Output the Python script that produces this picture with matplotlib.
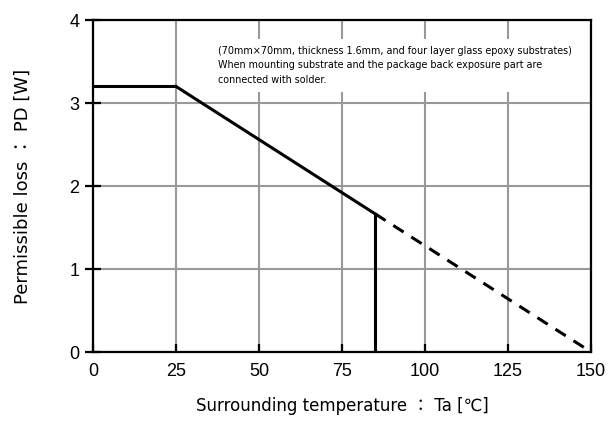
import matplotlib
matplotlib.use("Agg")
import matplotlib.pyplot as plt

plt.rcParams['font.family'] = ['Liberation Sans', 'Noto Sans CJK JP', 'DejaVu Sans']
label_font = ['DejaVu Sans', 'Noto Sans CJK JP']

# data
temp_flat = [0, 25]
pd_flat = [3.2, 3.2]
temp_derate = [25, 85]
pd_derate = [3.2, 1.664]
temp_cut = [85, 85]
pd_cut = [1.664, 0]
temp_dash = [85, 150]
pd_dash = [1.664, 0]
xticks = [0, 25, 50, 75, 100, 125, 150]
yticks = [0, 1, 2, 3, 4]

fig = plt.figure(figsize=(6.10, 4.37), dpi=100)
ax = fig.add_axes([0.1525, 0.1945, 0.8165, 0.7595])

ax.set_xlim(0, 150)
ax.set_ylim(0, 4)
ax.set_xticks(xticks)
ax.set_yticks(yticks)
ax.grid(True, color='#999999', linewidth=1.5, zorder=0)
ax.set_axisbelow(True)

for s in ax.spines.values():
    s.set_linewidth(1.6)
    s.set_color('black')
    s.set_zorder(5)

ax.tick_params(axis='y', direction='inout', length=12, width=1.6, labelsize=13, pad=4)
ax.tick_params(axis='x', direction='in', length=6, width=1.6, labelsize=13, pad=8)

ax.plot(temp_flat, pd_flat, color='black', linewidth=2.2, zorder=3, solid_capstyle='butt')
ax.plot(temp_derate, pd_derate, color='black', linewidth=2.2, zorder=3)
ax.plot(temp_cut, pd_cut, color='black', linewidth=2.2, zorder=3)
ax.plot(temp_dash, pd_dash, color='black', linewidth=2.2, linestyle=(0, (4, 3)), zorder=3)

ax.text(37.6, 3.22,
        "(70mm\u00d770mm, thickness 1.6mm, and four layer glass epoxy substrates)\n"
        "When mounting substrate and the package back exposure part are\n"
        "connected with solder.",
        fontsize=6.9, family=label_font, ha='left', va='bottom', linespacing=1.55, zorder=4,
        bbox=dict(facecolor='white', edgecolor='none', boxstyle='square,pad=0.7'))

ax.set_xlabel("Surrounding temperature \uff1a Ta [\u2103]", fontsize=12, family=label_font, labelpad=12)
ax.set_ylabel("Permissible loss \uff1a PD [W]", fontsize=13, family=label_font, labelpad=27)

fig.savefig("out.png", dpi=100)
